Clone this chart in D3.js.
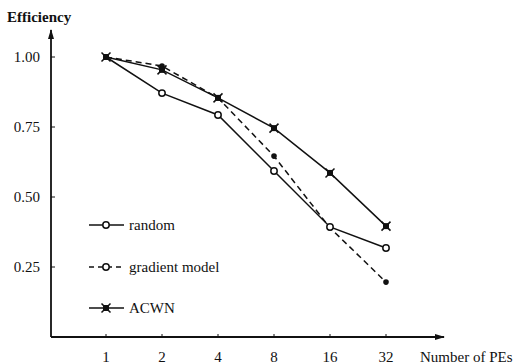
<!DOCTYPE html>
<html lang="en">
<head>
<meta charset="utf-8">
<title>Efficiency</title>
<script src="https://cdn.jsdelivr.net/npm/d3@7"></script>
<style>
  body { margin: 0; background: #fff; }
  text { font-family: "Liberation Serif", "DejaVu Serif", serif; fill: #111; }
</style>
</head>
<body>
<script>
// data
var peCounts = ["1", "2", "4", "8", "16", "32"];
var randomEff = [1.00, 0.871, 0.793, 0.593, 0.393, 0.318];
var gradientEff = [1.00, 0.968, 0.854, 0.646, 0.39, 0.196];
var acwnEff = [1.00, 0.954, 0.854, 0.746, 0.586, 0.396];
var yTicks = [0.25, 0.50, 0.75, 1.00];

var W = 525, H = 364;
var fs = 15;
var svg = d3.select("body").append("svg").attr("width", W).attr("height", H);

var x = d3.scalePoint().domain(peCounts).range([106, 386]);
var y = d3.scaleLinear().domain([0, 1]).range([337, 57]);

// axes with arrows
svg.append("defs").append("marker")
  .attr("id", "arrow").attr("viewBox", "0 0 10 6").attr("refX", 9).attr("refY", 3)
  .attr("markerWidth", 10).attr("markerHeight", 6).attr("markerUnits", "userSpaceOnUse")
  .attr("orient", "auto")
  .append("path").attr("d", "M0,0 L10,3 L0,6 Z").attr("fill", "#111");

svg.append("line").attr("x1", 51).attr("y1", y(0)).attr("x2", 51).attr("y2", 30)
  .attr("stroke", "#111").attr("stroke-width", 1.8).attr("marker-end", "url(#arrow)");
svg.append("line").attr("x1", 51).attr("y1", y(0)).attr("x2", 444).attr("y2", y(0))
  .attr("stroke", "#111").attr("stroke-width", 1.8).attr("marker-end", "url(#arrow)");

// y ticks
svg.selectAll(".ytick").data(yTicks).enter().append("line")
  .attr("x1", 51).attr("x2", 55).attr("y1", function(d) { return y(d); }).attr("y2", function(d) { return y(d); })
  .attr("stroke", "#111").attr("stroke-width", 1);
svg.selectAll(".ylab").data(yTicks).enter().append("text")
  .attr("x", 40).attr("y", function(d) { return y(d) + 5; })
  .attr("text-anchor", "end").attr("font-size", fs)
  .text(function(d) { return d.toFixed(2); });

// x ticks
svg.selectAll(".xtick").data(peCounts).enter().append("line")
  .attr("x1", function(d) { return x(d); }).attr("x2", function(d) { return x(d); })
  .attr("y1", y(0)).attr("y2", y(0) - 3)
  .attr("stroke", "#111").attr("stroke-width", 1);
svg.selectAll(".xlab").data(peCounts).enter().append("text")
  .attr("x", function(d) { return x(d); }).attr("y", 362)
  .attr("text-anchor", "middle").attr("font-size", fs)
  .text(function(d) { return d; });

svg.append("text").attr("x", 7).attr("y", 22).attr("font-size", fs).attr("font-weight", "bold")
  .text("Efficiency");
svg.append("text").attr("x", 420).attr("y", 362).attr("font-size", fs)
  .text("Number of PEs");

var line = d3.line().x(function(d, i) { return x(peCounts[i]); }).y(function(d) { return y(d); });

function drawSeries(vals, dash) {
  svg.append("path").datum(vals).attr("d", line)
    .attr("fill", "none").attr("stroke", "#111").attr("stroke-width", 1.5)
    .attr("stroke-dasharray", dash);
}
function circleMark(g, cx, cy) {
  g.append("circle").attr("cx", cx).attr("cy", cy).attr("r", 3.2)
    .attr("fill", "#fff").attr("stroke", "#111").attr("stroke-width", 1.5);
}
function dotMark(g, cx, cy) {
  g.append("circle").attr("cx", cx).attr("cy", cy).attr("r", 2.8).attr("fill", "#111");
}
function starMark(g, cx, cy) {
  g.append("rect").attr("x", cx - 3).attr("y", cy - 3).attr("width", 6).attr("height", 6).attr("fill", "#111");
  g.append("path").attr("d", "M" + (cx - 4.5) + "," + (cy - 4.5) + "L" + (cx + 4.5) + "," + (cy + 4.5) +
    "M" + (cx - 4.5) + "," + (cy + 4.5) + "L" + (cx + 4.5) + "," + (cy - 4.5))
    .attr("stroke", "#111").attr("stroke-width", 1.5);
}

drawSeries(gradientEff, "6,4");
drawSeries(randomEff, null);
drawSeries(acwnEff, null);

var marks = svg.append("g");
gradientEff.forEach(function(d, i) { dotMark(marks, x(peCounts[i]), y(d)); });
acwnEff.forEach(function(d, i) { starMark(marks, x(peCounts[i]), y(d)); });
randomEff.forEach(function(d, i) { if (i > 0) circleMark(marks, x(peCounts[i]), y(d)); });

// legend
var legend = [
  { name: "random", dash: null, mark: circleMark, y: 225 },
  { name: "gradient model", dash: "5,4", mark: circleMark, y: 267 },
  { name: "ACWN", dash: null, mark: starMark, y: 308 }
];
legend.forEach(function(l) {
  svg.append("line").attr("x1", 89).attr("x2", 124).attr("y1", l.y).attr("y2", l.y)
    .attr("stroke", "#111").attr("stroke-width", 1.5).attr("stroke-dasharray", l.dash);
  l.mark(svg, 106, l.y);
  svg.append("text").attr("x", 129).attr("y", l.y + 5).attr("font-size", fs).text(l.name);
});
</script>
</body>
</html>
